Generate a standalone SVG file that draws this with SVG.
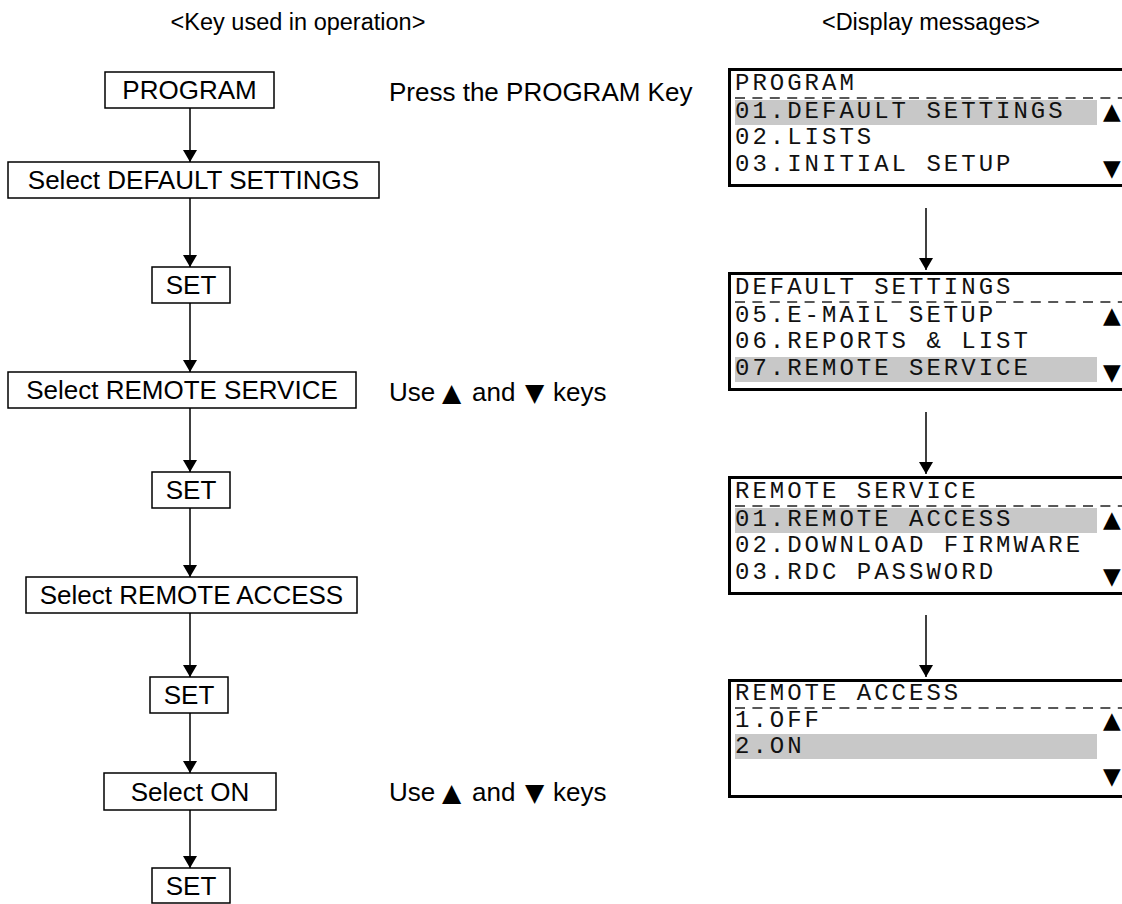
<svg xmlns="http://www.w3.org/2000/svg" width="1122" height="904" viewBox="0 0 1122 904">
<defs>
<marker id="ah" viewBox="0 0 12 14" refX="12" refY="7" markerWidth="12" markerHeight="14" markerUnits="userSpaceOnUse" orient="auto">
<path d="M0,0 L12,7 L0,14 Z" fill="#000"/>
</marker>
<style>
.hdr{font-family:"Liberation Sans",Arial,sans-serif;font-size:23.5px;fill:#000;text-anchor:middle}
.key rect{fill:#fff;stroke:#000;stroke-width:1.5}
.key text{font-family:"Liberation Sans",Arial,sans-serif;font-size:26px;fill:#000;text-anchor:middle}
.note{font-family:"Liberation Sans",Arial,sans-serif;font-size:26px;fill:#000}
.sym{font-family:"DejaVu Sans",sans-serif;font-size:25px}
.conn line{stroke:#000;stroke-width:1.5;marker-end:url(#ah)}
.panel .frame{fill:#fff;stroke:#000;stroke-width:3}
.panel .hl{fill:#c8c8c8}
.panel .dash{stroke:#222;stroke-width:1.5;stroke-dasharray:10 7.4}
.panel text{font-family:"Liberation Mono","Courier New",monospace;font-size:24px;letter-spacing:3px;fill:#111}
.panel .tri{font-family:"DejaVu Sans",sans-serif;font-size:23px;letter-spacing:0;fill:#000}
</style>
</defs>
<rect width="1122" height="904" fill="#fff"/>

<text class="hdr" x="298" y="30">&lt;Key used in operation&gt;</text>
<text class="hdr" x="931" y="30">&lt;Display messages&gt;</text>

<g id="k-program" class="key"><rect x="105" y="72" width="169" height="36"/><text x="189.5" y="99">PROGRAM</text></g>
<g id="k-sel-default" class="key"><rect x="8" y="162" width="371" height="36"/><text x="193.5" y="189">Select DEFAULT SETTINGS</text></g>
<g id="k-set1" class="key"><rect x="152" y="267" width="78" height="36"/><text x="191" y="294">SET</text></g>
<g id="k-sel-rs" class="key"><rect x="8" y="372" width="348" height="36"/><text x="182" y="399">Select REMOTE SERVICE</text></g>
<g id="k-set2" class="key"><rect x="152" y="472" width="78" height="36"/><text x="191" y="499">SET</text></g>
<g id="k-sel-ra" class="key"><rect x="26" y="577" width="331" height="36"/><text x="191.5" y="604">Select REMOTE ACCESS</text></g>
<g id="k-set3" class="key"><rect x="150" y="677" width="78" height="36"/><text x="189" y="704">SET</text></g>
<g id="k-sel-on" class="key"><rect x="104" y="773" width="172" height="37"/><text x="190" y="801">Select ON</text></g>
<g id="k-set4" class="key"><rect x="152" y="868" width="78" height="35"/><text x="191" y="895">SET</text></g>

<text class="note" x="389" y="101">Press the PROGRAM Key</text>
<text class="note" x="389" y="401">Use <tspan class="sym" x="442">▲</tspan><tspan x="472">and</tspan><tspan class="sym" x="525">▼</tspan><tspan x="553">keys</tspan></text>
<text class="note" x="389" y="801">Use <tspan class="sym" x="442">▲</tspan><tspan x="472">and</tspan><tspan class="sym" x="525">▼</tspan><tspan x="553">keys</tspan></text>

<g id="connectors" class="conn">
<line x1="190" y1="108" x2="190" y2="162"/>
<line x1="190" y1="198" x2="190" y2="267"/>
<line x1="190" y1="303" x2="190" y2="372"/>
<line x1="190" y1="408" x2="190" y2="472"/>
<line x1="190" y1="508" x2="190" y2="577"/>
<line x1="190" y1="613" x2="190" y2="677"/>
<line x1="190" y1="713" x2="190" y2="773"/>
<line x1="190" y1="810" x2="190" y2="868"/>
<line x1="926" y1="208" x2="926" y2="270"/>
<line x1="926" y1="412" x2="926" y2="474"/>
<line x1="926" y1="615" x2="926" y2="677"/>
</g>

<g id="d-program" class="panel">
<rect class="frame" x="729.5" y="69.5" width="420" height="116"/>
<rect class="hl" x="735" y="100" width="362" height="25"/>
<line class="dash" x1="735" y1="98" x2="1122" y2="98"/>
<text x="735" y="90">PROGRAM</text>
<text x="735" y="118">01.DEFAULT SETTINGS</text>
<text x="735" y="144">02.LISTS</text>
<text x="735" y="171">03.INITIAL SETUP</text>
<text class="tri" x="1103" y="119">▲</text>
<text class="tri" x="1103" y="176">▼</text>
</g>

<g id="d-default" class="panel">
<rect class="frame" x="729.5" y="273.5" width="420" height="116"/>
<rect class="hl" x="735" y="357" width="362" height="25"/>
<line class="dash" x1="735" y1="302" x2="1122" y2="302"/>
<text x="735" y="294">DEFAULT SETTINGS</text>
<text x="735" y="322">05.E-MAIL SETUP</text>
<text x="735" y="348">06.REPORTS &amp; LIST</text>
<text x="735" y="375">07.REMOTE SERVICE</text>
<text class="tri" x="1103" y="323">▲</text>
<text class="tri" x="1103" y="380">▼</text>
</g>

<g id="d-remote-service" class="panel">
<rect class="frame" x="729.5" y="477.5" width="420" height="116"/>
<rect class="hl" x="735" y="508" width="362" height="25"/>
<line class="dash" x1="735" y1="506" x2="1122" y2="506"/>
<text x="735" y="498">REMOTE SERVICE</text>
<text x="735" y="526">01.REMOTE ACCESS</text>
<text x="735" y="552">02.DOWNLOAD FIRMWARE</text>
<text x="735" y="579">03.RDC PASSWORD</text>
<text class="tri" x="1103" y="527">▲</text>
<text class="tri" x="1103" y="584">▼</text>
</g>

<g id="d-remote-access" class="panel">
<rect class="frame" x="729.5" y="680.5" width="420" height="116"/>
<rect class="hl" x="735" y="734" width="362" height="25"/>
<line class="dash" x1="735" y1="708" x2="1122" y2="708"/>
<text x="735" y="700">REMOTE ACCESS</text>
<text x="735" y="727">1.OFF</text>
<text x="735" y="753">2.ON</text>
<text class="tri" x="1103" y="728">▲</text>
<text class="tri" x="1103" y="784">▼</text>
</g>
</svg>
